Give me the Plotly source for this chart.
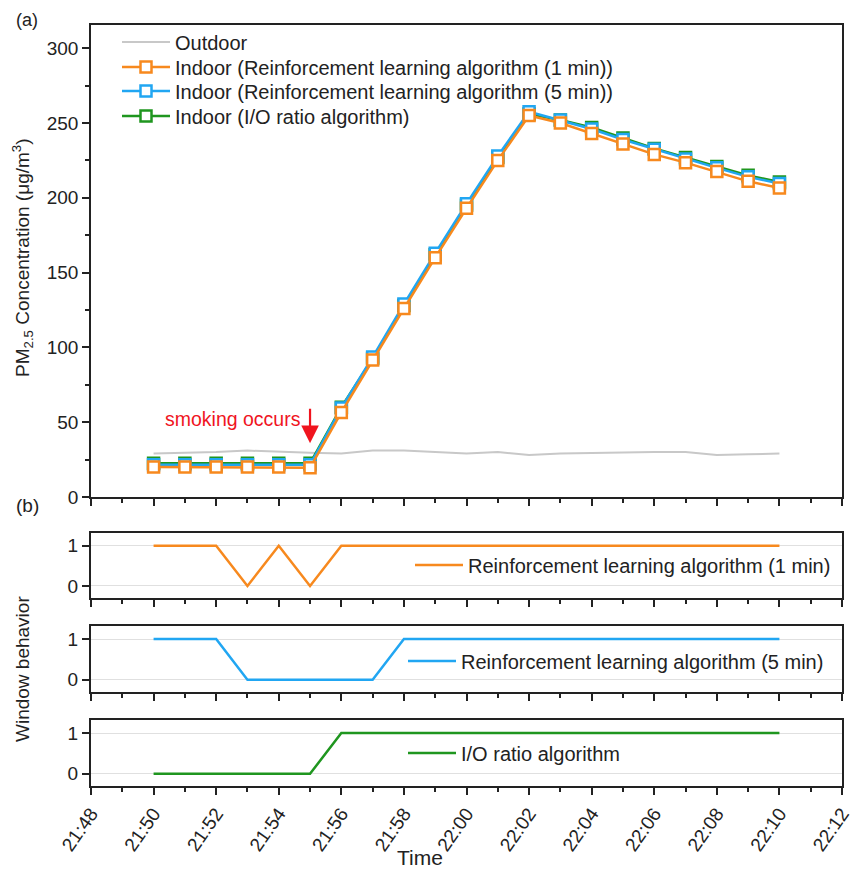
import plotly.graph_objects as go

# ---------------- data ----------------
times = ["21:50", "21:51", "21:52", "21:53", "21:54", "21:55", "21:56", "21:57",
         "21:58", "21:59", "22:00", "22:01", "22:02", "22:03", "22:04", "22:05",
         "22:06", "22:07", "22:08", "22:09", "22:10"]

outdoor = [29, 29.5, 30, 31, 30, 29.5, 29, 31, 31, 30, 29, 30, 28, 29, 29.5,
           30, 30, 30, 28, 28.5, 29]
indoor_rl1 = [20, 20, 20, 20, 20, 19.5, 56.5, 91.5, 126, 160, 193, 225, 255,
              250, 243, 236, 229, 223.5, 217.5, 211, 206.5]
indoor_rl5 = [21.5, 21.5, 21.5, 21.5, 21.5, 21.5, 59.5, 93.5, 129, 163, 196, 228,
              257.5, 252, 246, 239, 232.5, 226, 220, 214, 209.5]
indoor_io = [22.5, 22.5, 22.5, 22.5, 22.5, 22.5, 60, 92.5, 128, 162, 195, 227,
             256, 252, 247, 240, 233, 227, 221, 215, 210.5]

window_rl1 = [1, 1, 1, 0, 1, 0, 1, 1, 1, 1, 1, 1, 1, 1, 1, 1, 1, 1, 1, 1, 1]
window_rl5 = [1, 1, 1, 0, 0, 0, 0, 0, 1, 1, 1, 1, 1, 1, 1, 1, 1, 1, 1, 1, 1]
window_io = [0, 0, 0, 0, 0, 0, 1, 1, 1, 1, 1, 1, 1, 1, 1, 1, 1, 1, 1, 1, 1]

names_a = ["Outdoor",
           "Indoor (Reinforcement learning algorithm (1 min))",
           "Indoor (Reinforcement learning algorithm (5 min))",
           "Indoor (I/O ratio algorithm)"]
names_b = ["Reinforcement learning algorithm (1 min)",
           "Reinforcement learning algorithm (5 min)",
           "I/O ratio algorithm"]

DAY = "2021-01-01 "
x = [DAY + t + ":00" for t in times]

# ---------------- style ----------------
FONT = "Liberation Sans, Arial, Helvetica, sans-serif"
C_OUT = "#C8C8C8"
C_OR = "#F7891E"
C_BL = "#21A6F2"
C_GR = "#1F961F"
INK = "#222222"

# page offset (body margin) compensation: screen = figure + OFF
OFF = 8
W, H = 863, 869
SX0, SX1, SY0, SY1 = 91, 842, 25, 786
ML, MT = SX0 - OFF, SY0 - OFF
MR = W - (SX1 - OFF)
MB = H - (SY1 - OFF)
PW, PH = SX1 - SX0, SY1 - SY0


def px_x(s):
    return (s - SX0) / PW


def px_y(s):
    return (SY1 - s) / PH


fig = go.Figure()

# panel (a): each entry in its own legend so rows can be placed exactly
fig.add_trace(go.Scatter(x=x, y=outdoor, name=names_a[0], mode="lines",
                         line=dict(color=C_OUT, width=2),
                         xaxis="x", yaxis="y", legend="legend8"))
mk_base = dict(symbol="square", size=11, color="white")
series_a = [
    (indoor_io, names_a[3], C_GR, "legend5"),
    (indoor_rl5, names_a[2], C_BL, "legend6"),
    (indoor_rl1, names_a[1], C_OR, "legend7"),
]
for vals, nm, col, lg in series_a:
    m = dict(mk_base, line=dict(width=2.5, color=col))
    fig.add_trace(go.Scatter(x=x, y=vals, name=nm, mode="lines+markers",
                             line=dict(color=col, width=2.5), marker=m,
                             xaxis="x", yaxis="y", legend=lg))

# panel (b)
for i, (vals, nm, col) in enumerate([(window_rl1, names_b[0], C_OR),
                                     (window_rl5, names_b[1], C_BL),
                                     (window_io, names_b[2], C_GR)]):
    k = i + 2
    fig.add_trace(go.Scatter(x=x, y=vals, name=nm, mode="lines",
                             line=dict(color=col, width=2.5),
                             xaxis=f"x{k}", yaxis=f"y{k}", legend=f"legend{k}"))

dom_a = [px_y(497), px_y(25)]
dom_b = [[px_y(598), px_y(533)], [px_y(692), px_y(626)], [px_y(786), px_y(720)]]

xrange = [DAY + "21:48:00", DAY + "22:12:00"]
tickfont = dict(family=FONT, size=19, color=INK)

xcommon = dict(type="date", range=xrange, tickformat="%H:%M", dtick=120000,
               tick0=DAY + "21:48:00", ticks="outside", ticklen=7, tickwidth=1.5,
               tickcolor=INK, showline=True, linecolor=INK,
               mirror=True, showgrid=False, zeroline=False,
               minor=dict(dtick=60000, ticks="outside", ticklen=4,
                          tickwidth=1.5, tickcolor=INK, showgrid=False),
               tickfont=tickfont)

layout = dict(
    width=W, height=H,
    margin=dict(l=ML, r=MR, t=MT, b=MB),
    paper_bgcolor="white", plot_bgcolor="white",
    font=dict(family=FONT, size=19, color=INK),
    showlegend=True,
)

layout["xaxis"] = dict(xcommon, anchor="y", domain=[0, 1], showticklabels=False,
                       linewidth=1.5)
layout["yaxis"] = dict(domain=dom_a, range=[0, 315.5], anchor="x",
                       tickvals=[0, 50, 100, 150, 200, 250, 300],
                       ticks="outside", ticklen=7, tickwidth=1.5, tickcolor=INK,
                       showline=True, linecolor=INK, linewidth=1.5, mirror=True,
                       showgrid=False, zeroline=False,
                       minor=dict(tickvals=[25, 75, 125, 175, 225, 275], ticks="outside",
                                  ticklen=4, tickwidth=1.5, tickcolor=INK),
                       tickfont=tickfont)
for i in range(3):
    k = i + 2
    layout[f"xaxis{k}"] = dict(xcommon, anchor=f"y{k}", domain=[0, 1], matches="x",
                               showticklabels=(k == 4), tickangle=-55, linewidth=2)
    layout[f"yaxis{k}"] = dict(domain=dom_b[i], range=[-0.3, 1.32], anchor=f"x{k}",
                               tickvals=[0, 1], ticks="outside", ticklen=7, tickwidth=1.5,
                               tickcolor=INK, showline=True, linecolor=INK,
                               linewidth=2, mirror=True, showgrid=True,
                               gridcolor="#E0E0E0", gridwidth=1, zeroline=False,
                               tickfont=tickfont)

legfont = dict(family=FONT, size=20, color=INK)


def leg(sx, sy):
    return dict(x=px_x(sx), y=px_y(sy), xanchor="left", yanchor="middle",
                bgcolor="rgba(0,0,0,0)", font=legfont, itemwidth=48, visible=True)


# panel a legend rows
layout["legend8"] = leg(117, 42)
layout["legend7"] = leg(117, 67)
layout["legend6"] = leg(117, 91)
layout["legend5"] = leg(117, 116)
# panel b legends
layout["legend2"] = leg(410, 565)
layout["legend3"] = leg(403, 661)
layout["legend4"] = leg(403, 753)

annos = [
    dict(text="(a)", x=px_x(14), y=px_y(OFF), xref="paper", yref="paper",
         xanchor="left", yanchor="top", showarrow=False, font=dict(size=18)),
    dict(text="(b)", x=px_x(14), y=px_y(505), xref="paper", yref="paper",
         xanchor="left", yanchor="middle", showarrow=False, font=dict(size=19)),
    dict(text="PM<sub>2.5</sub> Concentration (μg/m<sup>3</sup>)", x=px_x(22), y=px_y(258),
         xref="paper", yref="paper", xanchor="center", yanchor="middle",
         textangle=-90, showarrow=False, font=dict(size=19)),
    dict(text="Window behavior", x=px_x(22), y=px_y(669), xref="paper", yref="paper",
         xanchor="center", yanchor="middle", textangle=-90, showarrow=False,
         font=dict(size=19)),
    dict(text="Time", x=px_x(420), y=px_y(858), xref="paper", yref="paper",
         xanchor="center", yanchor="middle", showarrow=False, font=dict(size=21)),
    dict(text="smoking occurs", x=DAY + "21:54:47", y=52, xref="x", yref="y",
         xanchor="right", yanchor="middle", showarrow=False,
         font=dict(size=19.5, color="#F0141E")),
    dict(text="", x=DAY + "21:55:00", y=36, xref="x", yref="y", showarrow=True,
         ax=0, ay=-36, arrowhead=2, arrowsize=1.6, arrowwidth=2.2,
         arrowcolor="#F0141E"),
]
layout["annotations"] = annos
fig.update_layout(layout)

fig.write_html("out.html")
